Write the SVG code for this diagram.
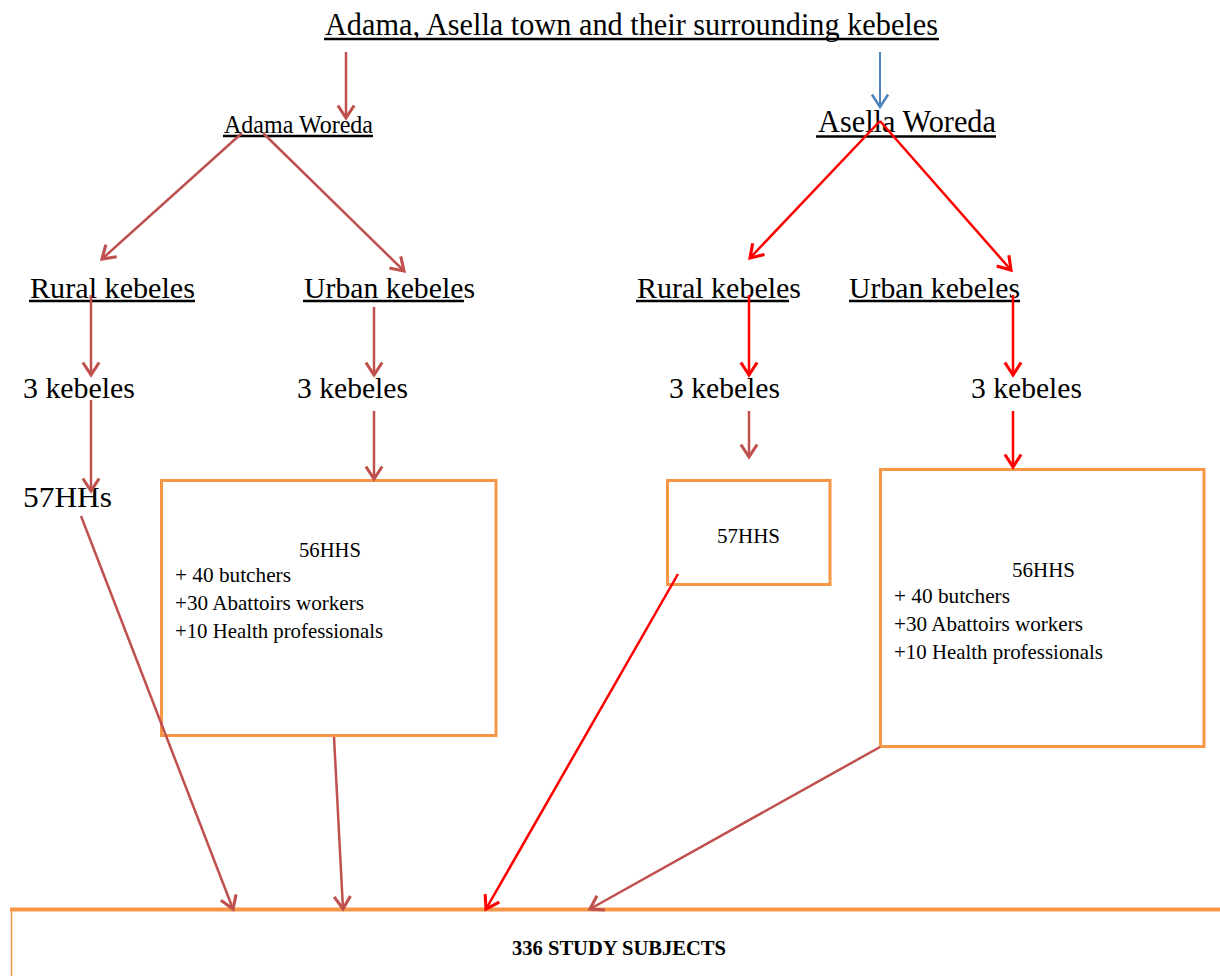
<svg xmlns="http://www.w3.org/2000/svg" width="1220" height="976" viewBox="0 0 1220 976">
<style>
text{font-family:"Liberation Serif","Times New Roman",serif;fill:#000}
.ul{stroke:#000;stroke-width:2.5}
.box{fill:#fff;stroke:#F79646;stroke-width:3}
.br{fill:none;stroke:#C0504D;stroke-width:2.5;marker-end:url(#mb)}
.rd{fill:none;stroke:#FF0000;stroke-width:2.5;marker-end:url(#mr)}
.bl{fill:none;stroke:#4F81BD;stroke-width:2;marker-end:url(#mbl)}
</style>
<defs>
<marker id="mb" markerUnits="userSpaceOnUse" markerWidth="20" markerHeight="20" viewBox="-12 -8 14 16" refX="0" refY="0" orient="auto"><path d="M-10,-6.5 L0,0 L-10,6.5" fill="none" stroke="#C0504D" stroke-width="2.5"/></marker>
<marker id="mr" markerUnits="userSpaceOnUse" markerWidth="20" markerHeight="20" viewBox="-12 -8 14 16" refX="0" refY="0" orient="auto"><path d="M-10,-6.5 L0,0 L-10,6.5" fill="none" stroke="#FF0000" stroke-width="2.5"/></marker>
<marker id="mbl" markerUnits="userSpaceOnUse" markerWidth="20" markerHeight="20" viewBox="-12 -8 14 16" refX="0" refY="0" orient="auto"><path d="M-10,-6.5 L0,0 L-10,6.5" fill="none" stroke="#4F81BD" stroke-width="2"/></marker>
</defs>
<rect width="1220" height="976" fill="#fff"/>

<g id="title">
<text x="325" y="35" font-size="32" textLength="613" lengthAdjust="spacingAndGlyphs">Adama, Asella town and their surrounding kebeles</text>
<line class="ul" x1="324" y1="39" x2="939" y2="39"/>
</g>
<g id="adama-woreda">
<text x="224" y="133" font-size="25" textLength="149" lengthAdjust="spacingAndGlyphs">Adama Woreda</text>
<line class="ul" x1="223" y1="136" x2="373" y2="136"/>
</g>
<g id="asella-woreda">
<text x="818" y="132" font-size="31" textLength="178" lengthAdjust="spacingAndGlyphs">Asella Woreda</text>
<line class="ul" x1="816" y1="136.5" x2="996" y2="136.5"/>
</g>
<g id="rural-left">
<text x="30" y="298" font-size="30" textLength="165" lengthAdjust="spacingAndGlyphs">Rural kebeles</text>
<line class="ul" x1="29" y1="301" x2="195" y2="301"/>
</g>
<g id="urban-left">
<text x="304" y="298" font-size="30" textLength="171" lengthAdjust="spacingAndGlyphs">Urban kebeles</text>
<line class="ul" x1="303" y1="301" x2="464" y2="301"/>
</g>
<g id="rural-right">
<text x="637" y="298" font-size="30" textLength="164" lengthAdjust="spacingAndGlyphs">Rural kebeles</text>
<line class="ul" x1="636" y1="301" x2="789" y2="301"/>
</g>
<g id="urban-right">
<text x="849" y="298" font-size="30" textLength="171" lengthAdjust="spacingAndGlyphs">Urban kebeles</text>
<line class="ul" x1="849" y1="301" x2="1020" y2="301"/>
</g>
<g id="kebeles-1"><text x="23" y="398" font-size="30" textLength="112" lengthAdjust="spacingAndGlyphs">3 kebeles</text></g>
<g id="kebeles-2"><text x="297" y="398" font-size="30" textLength="111" lengthAdjust="spacingAndGlyphs">3 kebeles</text></g>
<g id="kebeles-3"><text x="669" y="398" font-size="30" textLength="111" lengthAdjust="spacingAndGlyphs">3 kebeles</text></g>
<g id="kebeles-4"><text x="971" y="398" font-size="30" textLength="111" lengthAdjust="spacingAndGlyphs">3 kebeles</text></g>
<g id="hh57-left"><text x="23" y="507" font-size="30" textLength="89" lengthAdjust="spacingAndGlyphs">57HHs</text></g>

<g id="box-adama-urban">
<rect class="box" x="161.5" y="480.5" width="334.5" height="255"/>
<text x="299" y="557" font-size="21" textLength="62" lengthAdjust="spacingAndGlyphs">56HHS</text>
<text x="175" y="582" font-size="21" textLength="116" lengthAdjust="spacingAndGlyphs">+ 40 butchers</text>
<text x="175" y="610" font-size="21" textLength="189" lengthAdjust="spacingAndGlyphs">+30 Abattoirs workers</text>
<text x="175" y="638" font-size="21" textLength="208" lengthAdjust="spacingAndGlyphs">+10 Health professionals</text>
</g>
<g id="box-asella-rural">
<rect class="box" x="667.5" y="480.5" width="162.5" height="104"/>
<text x="717" y="543" font-size="21" textLength="63" lengthAdjust="spacingAndGlyphs">57HHS</text>
</g>
<g id="box-asella-urban">
<rect class="box" x="880.5" y="469.5" width="323.5" height="277"/>
<text x="1012" y="577" font-size="21" textLength="63" lengthAdjust="spacingAndGlyphs">56HHS</text>
<text x="894" y="603" font-size="21" textLength="116" lengthAdjust="spacingAndGlyphs">+ 40 butchers</text>
<text x="894" y="631" font-size="21" textLength="189" lengthAdjust="spacingAndGlyphs">+30 Abattoirs workers</text>
<text x="894" y="659" font-size="21" textLength="209" lengthAdjust="spacingAndGlyphs">+10 Health professionals</text>
</g>
<g id="study-subjects">
<rect x="11" y="909" width="1215" height="80" fill="#fff"/>
<line x1="10" y1="909.5" x2="1220" y2="909.5" stroke="#F79646" stroke-width="4"/>
<line x1="11.5" y1="909" x2="11.5" y2="976" stroke="#F79646" stroke-width="1.5"/>
<text x="512" y="955" font-size="21" font-weight="bold" textLength="214" lengthAdjust="spacingAndGlyphs">336 STUDY SUBJECTS</text>
</g>

<g id="connectors">
<line class="br" x1="346" y1="52" x2="346" y2="118"/>
<line class="bl" x1="880" y1="52" x2="880" y2="107"/>
<line class="br" x1="242" y1="133" x2="102" y2="259"/>
<line class="br" x1="263" y1="133" x2="404" y2="271"/>
<line class="rd" x1="880" y1="121" x2="750" y2="258"/>
<line class="rd" x1="880" y1="121" x2="1011" y2="270"/>
<line class="br" x1="91" y1="295" x2="91" y2="375"/>
<line class="br" x1="91" y1="400" x2="91" y2="491"/>
<line class="br" x1="374" y1="307" x2="374" y2="375"/>
<line class="br" x1="374" y1="411" x2="374" y2="479"/>
<line class="rd" x1="749" y1="295" x2="749" y2="375"/>
<line class="br" x1="749" y1="411" x2="749" y2="457"/>
<line class="rd" x1="1013" y1="295" x2="1013" y2="375"/>
<line class="rd" x1="1013" y1="411" x2="1013" y2="467"/>
<line class="br" x1="81" y1="516" x2="233" y2="909"/>
<line class="br" x1="334" y1="737" x2="343" y2="909"/>
<line class="rd" x1="678" y1="574" x2="486" y2="909"/>
<line class="br" x1="880" y1="747" x2="590" y2="909"/>
</g>
</svg>
